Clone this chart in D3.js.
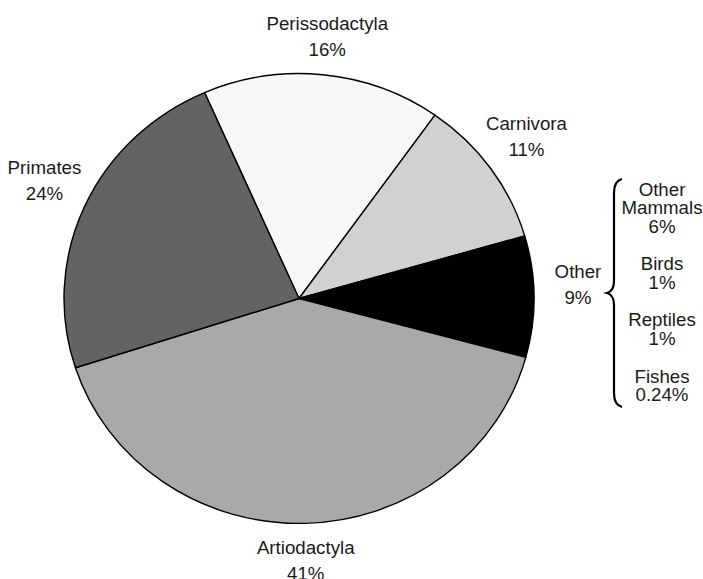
<!DOCTYPE html>
<html>
<head>
<meta charset="utf-8">
<script src="https://cdn.jsdelivr.net/npm/d3@7"></script>
<style>
  body { margin: 0; background: #fff; }
  text { font-family: "Liberation Sans", Arial, Helvetica, sans-serif; font-size: 18.7px; fill: #1a1a1a; }
</style>
</head>
<body>
<div id="chart"></div>
<script>
// main slices, clockwise starting at the Perissodactyla slice
var categories = ["Perissodactyla", "Carnivora", "Other", "Artiodactyla", "Primates"];
var values = [16.4, 10.7, 8.7, 40.8, 23.4];
var pctLabels = ["16%", "11%", "9%", "41%", "24%"];

// breakdown of "Other"
var subCategories = ["Other Mammals", "Birds", "Reptiles", "Fishes"];
var subLabels = ["6%", "1%", "1%", "0.24%"];

var width = 703, height = 579;
var cx = 299, cy = 298.5;
var radius = 235, squash = 0.957;   // pie is drawn slightly flattened
var labelRx = 279, labelRy = 262, labelLift = 12;

var color = d3.scaleOrdinal().domain(categories)
  .range(["#f7f7f7", "#d1d1d3", "#000000", "#a9a9aa", "#636365"]);

var svg = d3.select("#chart").append("svg")
  .attr("width", width).attr("height", height);

var start = -23.7 * Math.PI / 180;
var pie = d3.pie().sort(null).value(function(d) { return d; })
  .startAngle(start).endAngle(start + 2 * Math.PI);
var arcs = pie(values);
var arc = d3.arc().innerRadius(0).outerRadius(radius);

var g = svg.append("g")
  .attr("transform", "translate(" + cx + "," + cy + ") scale(1," + squash + ")");

g.selectAll("path").data(arcs).enter().append("path")
  .attr("d", arc)
  .attr("fill", function(d, i) { return color(categories[i]); })
  .attr("stroke", "#000")
  .attr("stroke-width", 1.4)
  .attr("stroke-linejoin", "round")
  .attr("vector-effect", "non-scaling-stroke");

// slice labels, placed along each slice's middle angle
arcs.forEach(function(d, i) {
  var a = (d.startAngle + d.endAngle) / 2;
  var x = cx + Math.sin(a) * labelRx;
  var y = cy - Math.cos(a) * labelRy - labelLift * Math.abs(Math.sin(a));
  var t = svg.append("text").attr("text-anchor", "middle");
  t.append("tspan").attr("x", x).attr("y", y - 6.5).text(categories[i]);
  t.append("tspan").attr("x", x).attr("y", y + 19.5).text(pctLabels[i]);
});

// brace next to the "Other" label
var braceX = 614, braceTop = 179, braceBottom = 407, braceTip = 293;
var brace = d3.path();
brace.moveTo(braceX + 8, braceTop);
brace.quadraticCurveTo(braceX, braceTop + 2, braceX, braceTop + 14);
brace.lineTo(braceX, braceTip - 12);
brace.quadraticCurveTo(braceX, braceTip - 2, braceX - 7, braceTip);
brace.quadraticCurveTo(braceX, braceTip + 2, braceX, braceTip + 12);
brace.lineTo(braceX, braceBottom - 14);
brace.quadraticCurveTo(braceX, braceBottom - 2, braceX + 8, braceBottom);
svg.append("path")
  .attr("d", brace.toString())
  .attr("fill", "none")
  .attr("stroke", "#000")
  .attr("stroke-width", 2.2);

// breakdown labels, positioned by the baseline of their percent line
var subY = d3.scalePoint().domain(subCategories).range([232.5, 401]);
var subX = 662;
subCategories.forEach(function(name, i) {
  var lines = name.split(" ").concat([subLabels[i]]);
  var t = svg.append("text").attr("text-anchor", "middle");
  lines.forEach(function(line, j) {
    t.append("tspan")
      .attr("x", subX)
      .attr("y", subY(name) - (lines.length - 1 - j) * 18.5)
      .text(line);
  });
});
</script>
</body>
</html>
